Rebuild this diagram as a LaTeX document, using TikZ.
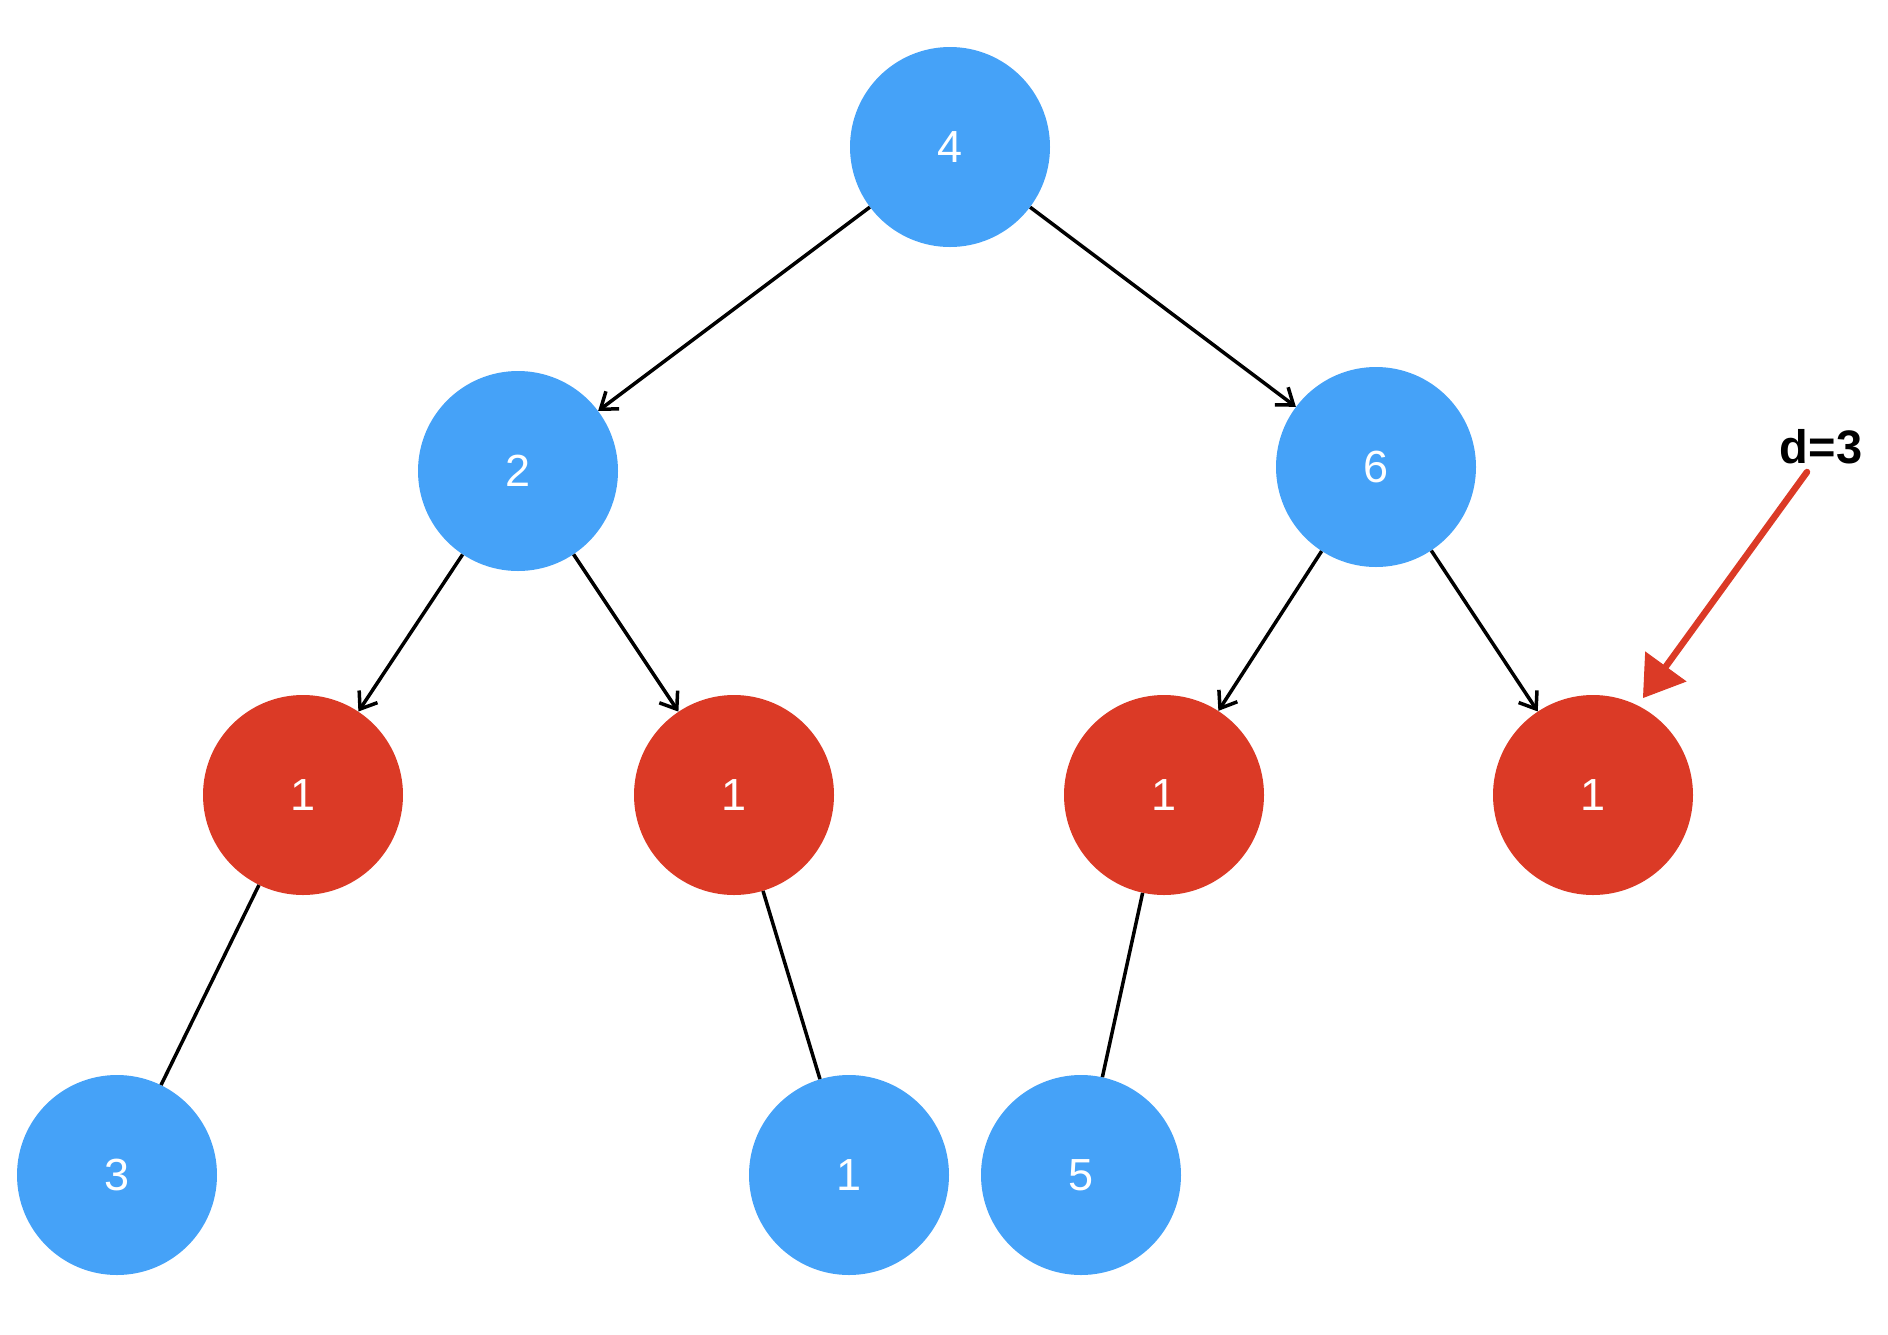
\documentclass[tikz,border=0pt]{standalone}
\usepackage{fontspec}
\setmainfont{Liberation Sans}
\usetikzlibrary{arrows.meta}
\definecolor{nodeblue}{RGB}{69,162,248}
\definecolor{nodered}{RGB}{219,58,38}
\tikzset{
  tnode/.style={circle, minimum size=200pt, inner sep=0pt, text=white,
    font=\fontsize{45}{50}\selectfont},
  bnode/.style={tnode, fill=nodeblue},
  rnode/.style={tnode, fill=nodered},
  edge/.style={draw=black, line width=3.5pt},
  arrowedge/.style={edge, -{Straight Barb[length=15pt,width=22pt,line width=3.5pt]}},
  marker/.style={draw=nodered, line width=6.5pt, line cap=round, -{Triangle[length=39pt,width=51pt,fill=nodered,line width=1pt]}},
  lbl/.style={font=\bfseries\fontsize{47}{52}\selectfont, text=black, inner sep=0pt}
}
\begin{document}
\begin{tikzpicture}[x=1pt,y=-1pt]
\useasboundingbox (0,0) rectangle (1888,1334);
% nodes
\node[bnode] (n4) at (950,147) {4};
\node[bnode] (n2) at (518,471) {2};
\node[bnode] (n6) at (1376,467) {6};
\node[rnode] (r1) at (303,795) {1};
\node[rnode] (r2) at (734,795) {1};
\node[rnode] (r3) at (1164,795) {1};
\node[rnode] (r4) at (1593,795) {1};
\node[bnode] (b3) at (117,1175) {3};
\node[bnode] (b1) at (849,1175) {1};
\node[bnode] (b5) at (1081,1175) {5};
\node[lbl] (d) at (1821,447) {d=3};
\coordinate (mstart) at (1807,472);
\coordinate (mend) at (1643,698);
% edges
\draw[arrowedge] (n4) -- (n2);
\draw[arrowedge] (n4) -- (n6);
\draw[arrowedge] (n2) -- (r1);
\draw[arrowedge] (n2) -- (r2);
\draw[arrowedge] (n6) -- (r3);
\draw[arrowedge] (n6) -- (r4);
\draw[edge] (r1) -- (b3);
\draw[edge] (r2) -- (b1);
\draw[edge] (r3) -- (b5);
% marker arrow
\draw[marker] (mstart) -- (mend);
\end{tikzpicture}
\end{document}
